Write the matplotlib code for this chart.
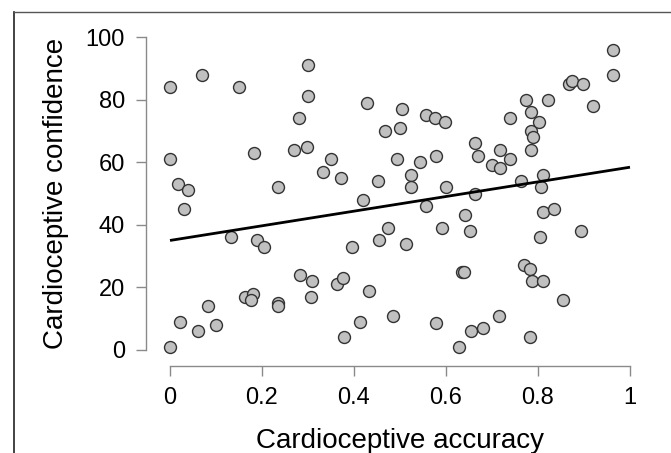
import matplotlib
matplotlib.use("Agg")
import matplotlib.pyplot as plt
from matplotlib.lines import Line2D

plt.rcParams['font.family'] = ['Liberation Sans', 'DejaVu Sans']

# cardioceptive accuracy (x) and confidence (y)
accuracy = [0.0, 0.0, 0.0, 0.017, 0.04, 0.03, 0.021, 0.061, 0.069, 0.082,
            0.1, 0.132, 0.15, 0.163, 0.18, 0.176, 0.183, 0.189, 0.204, 0.234,
            0.234, 0.234, 0.269, 0.28, 0.282, 0.297, 0.301, 0.301, 0.309, 0.306,
            0.333, 0.35, 0.362, 0.372, 0.377, 0.379, 0.396, 0.413, 0.419, 0.429,
            0.432, 0.453, 0.455, 0.467, 0.473, 0.485, 0.494, 0.5, 0.504, 0.512,
            0.524, 0.524, 0.544, 0.556, 0.556, 0.575, 0.579, 0.579, 0.592, 0.597,
            0.601, 0.628, 0.634, 0.639, 0.642, 0.653, 0.655, 0.663, 0.663, 0.669,
            0.681, 0.7, 0.715, 0.717, 0.717, 0.739, 0.739, 0.764, 0.769, 0.773,
            0.783, 0.784, 0.783, 0.784, 0.789, 0.784, 0.787, 0.803, 0.805, 0.806,
            0.811, 0.81, 0.811, 0.821, 0.834, 0.855, 0.868, 0.873, 0.897, 0.893,
            0.92, 0.962, 0.962]
confidence = [84, 61, 1, 53, 51, 45, 9, 6, 88, 14,
              8, 36, 84, 17, 18, 16, 63, 35, 33, 52,
              15, 14, 64, 74, 24, 65, 91, 81, 22, 17,
              57, 61, 21, 55, 23, 4, 33, 9, 48, 79,
              19, 54, 35, 70, 39, 11, 61, 71, 77, 34,
              56, 52, 60, 46, 75, 74, 62, 8.5, 39, 73,
              52, 1, 25, 25, 43, 38, 6, 50, 66, 62,
              7, 59, 11, 64, 58, 74, 61, 54, 27, 80,
              26, 76, 4, 70, 68, 64, 22, 73, 36, 52,
              56, 44, 22, 80, 45, 16, 85, 86, 85, 38,
              78, 96, 88]

# fitted regression line end points
fit_x = [0, 1]
fit_y = [35, 58.4]

xticks = [0, 0.2, 0.4, 0.6, 0.8, 1]
xticklabels = ['0', '0.2', '0.4', '0.6', '0.8', '1']
yticks = [0, 20, 40, 60, 80, 100]

fig = plt.figure(figsize=(6.71, 4.53), dpi=100)
ax = fig.add_axes([170/671, 1 - 350/453, 460/671, 313/453])

ax.scatter(accuracy, confidence, s=74, facecolor='#c0c0c0',
           edgecolor='#333333', linewidth=1.0, zorder=3, clip_on=False)
ax.plot(fit_x, fit_y, color='black', linewidth=2.0, zorder=4,
        solid_capstyle='butt', clip_on=False)

ax.set_xlim(0, 1)
ax.set_ylim(0, 100)

# R style axes
for s in ['top', 'right']:
    ax.spines[s].set_visible(False)
ax.spines['left'].set_position(('outward', 17))
ax.spines['bottom'].set_position(('outward', 11.5))
ax.spines['left'].set_bounds(0, 100)
ax.spines['bottom'].set_bounds(0, 1)
for s in ['left', 'bottom']:
    ax.spines[s].set_color('#8a8a8a')
    ax.spines[s].set_linewidth(1.0)

ax.set_xticks(xticks)
ax.set_xticklabels(xticklabels)
ax.set_yticks(yticks)
ax.tick_params(axis='both', colors='#8a8a8a', labelcolor='black',
               labelsize=17, length=7.5, width=1.0)
ax.tick_params(axis='x', pad=8)
ax.tick_params(axis='y', pad=8)

ax.set_xlabel('Cardioceptive accuracy', fontsize=20, labelpad=13)
ax.set_ylabel('Cardioceptive confidence', fontsize=20, labelpad=12)

# panel border (top and left edge)
fig.add_artist(Line2D([14/671, 14/671], [0, 1 - 12/453], color='#222222',
                      linewidth=1.2, transform=fig.transFigure))
fig.add_artist(Line2D([14/671, 1], [1 - 12/453, 1 - 12/453], color='#555555',
                      linewidth=1.0, transform=fig.transFigure))

fig.savefig('out.png', dpi=100)
